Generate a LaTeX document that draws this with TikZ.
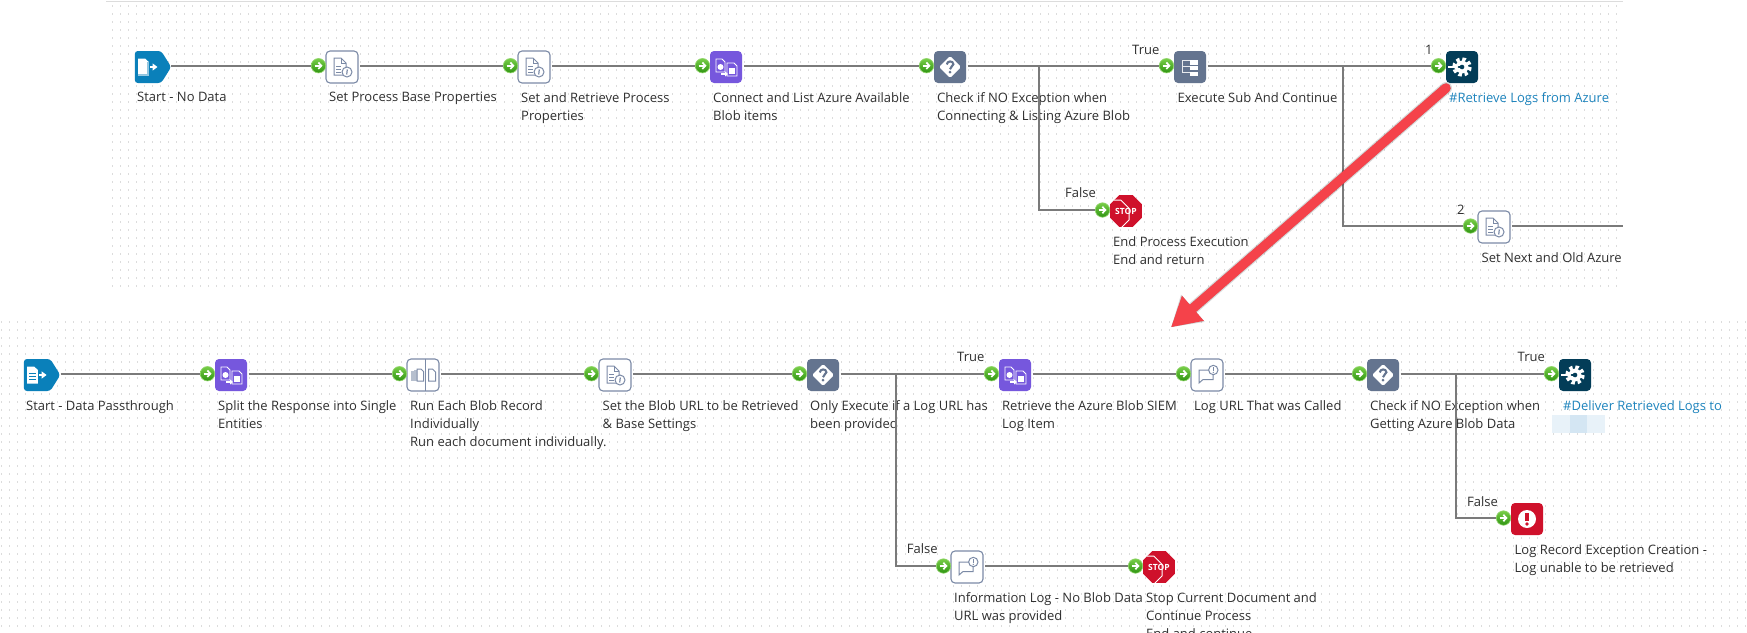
\documentclass[tikz,border=0pt]{standalone}
\usepackage{fontspec}
\setmainfont{Open Sans}
\usetikzlibrary{calc}
\usetikzlibrary{arrows.meta,shapes.geometric,shapes.symbols}
\definecolor{linegray}{HTML}{7A7A7A}
\definecolor{dotgray}{HTML}{DCDCDC}
\definecolor{startblue}{HTML}{0A80BA}
\definecolor{mappurple}{HTML}{7657DD}
\definecolor{slategray}{HTML}{64748F}
\definecolor{navy}{HTML}{033D58}
\definecolor{alertred}{HTML}{CF112B}
\definecolor{iconline}{HTML}{7B8AA6}
\definecolor{balltop}{HTML}{78CE48}
\definecolor{ballbottom}{HTML}{2F9412}
\definecolor{ballrim}{HTML}{93D66E}
\definecolor{linkblue}{HTML}{1E84BD}
\definecolor{txtgray}{HTML}{2F2F2F}
\definecolor{arrowred}{HTML}{F5424A}
\definecolor{blurlight}{HTML}{E8F2F9}
\definecolor{blurdark}{HTML}{D4E6F3}
\tikzset{
	glyph/.style={shift={(path picture bounding box.center)},sharp corners},
	link/.style={draw=linegray,line width=2.1pt},
	canvasdots/.style={dotgray,line width=1pt,dash pattern=on 2pt off 6pt},
	lbl/.style={anchor=north west,inner sep=0pt,align=left,text=txtgray,font=\fontsize{13}{18}\selectfont},
	linklbl/.style={lbl,text=linkblue},
	inball/.style={circle,minimum size=14.5pt,inner sep=0pt,top color=balltop,bottom color=ballbottom,draw=ballrim,line width=.6pt,
		path picture={\draw [white,line width=1.7pt,-{Straight Barb[length=3pt,width=6.5pt]},glyph] (-4,0) -- (4,0);}},
	iconbox/.style={rectangle,rounded corners=4pt,minimum size=32pt,inner sep=0pt},
	whitebox/.style={iconbox,fill=white,draw=iconline,line width=1.1pt},
	startbox/.style={signal,signal to=east,signal from=nowhere,signal pointer angle=116,rounded corners=3pt,
		minimum width=36.4pt,minimum height=32pt,inner sep=0pt,fill=startblue},
	startempty/.style={startbox,path picture={\begin{scope}[glyph]
		\fill [white] (-10,-8.5) -- (-3,-8.5) -- (.8,-5) -- (.8,8.5) -- (-10,8.5) -- cycle;
		\fill [startblue!45!white] (-.8,-5) -- (.8,-5) -- (.8,8.5) -- (-10,8.5) -- (-10,7) -- (-.8,7) -- cycle;
		\draw [white,line width=1.8pt,-{Triangle[length=5pt,width=7pt]}] (2,0) -- (9.5,0);
		\end{scope}}},
	startdoc/.style={startbox,path picture={\begin{scope}[glyph]
		\fill [white] (-10,-8.5) -- (-3,-8.5) -- (.8,-5) -- (.8,8.5) -- (-10,8.5) -- cycle;
		\foreach \y in {-2,1,4} \draw [startblue,line width=1pt] (-8,\y) -- (-1,\y);
		\draw [white,line width=1.8pt,-{Triangle[length=5pt,width=7pt]}] (2,0) -- (9.5,0);
		\end{scope}}},
	docinfo/.style={whitebox,path picture={\begin{scope}[glyph,iconline,line width=1pt]
		\draw (-8,-9) -- (-1,-9) -- (4,-4) -- (4,8) -- (-8,8) -- cycle;
		\draw (-1,-9) -- (-1,-4) -- (4,-4);
		\foreach \y in {-1,2,5} \draw (-6,\y) -- (-1,\y);
		\draw [fill=white] (5,5) circle (5);
		\draw [line width=1.2pt] (5.3,2.5) -- (4.7,7.5);
		\end{scope}}},
	mapbox/.style={iconbox,fill=mappurple,path picture={\begin{scope}[glyph,white,line width=.9pt]
		\draw (-10,-8) -- (-4,-8) -- (-1,-5) -- (-1,5) -- (-10,5) -- cycle;
		\fill (-5.5,0) circle (3);
		\draw (1,-4) -- (8,-4) -- (11,-1) -- (11,9) -- (1,9) -- cycle;
		\fill (3,1) rectangle (9,7);
		\draw [line width=1.4pt,-{Triangle[length=3pt,width=5pt]}] (-5,7) -- (2,7);
		\end{scope}}},
	decisionbox/.style={iconbox,fill=slategray,path picture={\begin{scope}[glyph]
		\fill [white,rounded corners=1.5pt] (0,-11) -- (11,0) -- (0,11) -- (-11,0) -- cycle;
		\draw [slategray,line width=2.1pt] (-3.2,-2.5) .. controls (-3.2,-6.5) and (3.4,-6.5) .. (3.4,-2.8) .. controls (3.4,-.5) and (0,-.5) .. (0,2.2);
		\fill [slategray] (0,5.2) circle (1.5);
		\end{scope}}},
	subbox/.style={iconbox,fill=slategray,path picture={\begin{scope}[glyph,white]
		\draw [white!85!slategray,line width=1pt] (-8,-7) -- (-8,6) (-8,-6.3) -- (0,-6.3) (-8,-.3) -- (0,-.3) (-8,5.7) -- (0,5.7);
		\foreach \y in {-4.7,.7,6.7} \fill (0,\y-2.2) rectangle (8,\y+2.2);
		\end{scope}}},
	gearbox/.style={iconbox,fill=navy,path picture={\begin{scope}[glyph,shift={(2,0)}]
		\draw [white,line width=3.8pt,dash pattern=on 3.4pt off 2.73pt] (0,0) circle (7.8);
		\fill [white] (0,0) circle (6.4);
		\fill [navy] (0,0) circle (2.3);
		\draw [navy,line width=2.8pt] (-10,0) -- (-1.5,0);
		\draw [white,line width=1.9pt,-{Triangle[length=4pt,width=7pt]}] (-14,0) -- (-3.5,0);
		\end{scope}}},
	splitbox/.style={whitebox,path picture={\begin{scope}[glyph,iconline,line width=1pt]
		\draw (2.5,-16) -- (2.5,16);
		\fill [iconline!55!white] (-12.5,-4) rectangle (-9.5,6);
		\fill [iconline!55!white] (-9,-5) rectangle (-6.5,6);
		\draw (-6,-6) -- (-2,-6) -- (.5,-3.5) -- (.5,6) -- (-6,6) -- cycle;
		\draw (5.5,-6) -- (9.5,-6) -- (12.5,-3) -- (12.5,6) -- (5.5,6) -- cycle;
		\end{scope}}},
	logbox/.style={whitebox,path picture={\begin{scope}[glyph,iconline,line width=1pt]
		\draw (-8,-5) -- (6,-5) -- (6,4.5) -- (-4,4.5) -- (-8,8) -- cycle;
		\draw [fill=white] (6.3,-5) circle (4.7);
		\draw [line width=1.2pt] (6.3,-8) -- (6.3,-4.2);
		\fill (6.3,-2.6) circle (.7);
		\end{scope}}},
	errorbox/.style={iconbox,fill=alertred,path picture={\begin{scope}[glyph]
		\fill [white] (0,0) circle (9);
		\fill [alertred] (-1.8,-6) rectangle (1.8,2);
		\fill [alertred] (0,5) circle (1.9);
		\end{scope}}},
	stopbox/.style={regular polygon,regular polygon sides=8,minimum size=34.6pt,inner sep=0pt,fill=alertred,
		text=white,font=\bfseries\fontsize{8.5}{10}\selectfont,
		path picture={\draw [white,line width=.9pt,glyph] (22.5:15) \foreach \a in {67.5,112.5,...,337.5} {-- (\a:15)} -- cycle;}},
}
\begin{document}
\begin{tikzpicture}[x=1pt,y=-1pt]
	\useasboundingbox (0,0) rectangle (1747,632);
	\clip (0,0) rectangle (1747,632);
	\fill [white] (0,0) rectangle (1747,632);

	% dotted canvas
	\foreach \x in {112,120,...,1616} \draw [canvasdots] (\x,5) -- (\x,287);
	\foreach \x in {1,9,...,1745} \draw [canvasdots] (\x,321) -- (\x,632);
	\draw [dotgray,line width=1.2pt] (106,1.2) -- (1623,1.2);

	% upper process
	\draw (148,67) node (n1) [startempty] {};
	\draw (342,67) node (n2) [docinfo] {};
	\draw (534,67) node (n3) [docinfo] {};
	\draw (726,67) node (n4) [mapbox] {};
	\draw (950,67) node (n5) [decisionbox] {};
	\draw (1190,67) node (n6) [subbox] {};
	\draw (1462,67) node (n7) [gearbox] {};
	\draw (1494,227) node (n8) [docinfo] {};
	\draw (1126,211) node (n9) [stopbox] {STOP};

	\draw (318.5,65.7) node (d2) [inball] {};
	\draw (510.5,65.7) node (d3) [inball] {};
	\draw (702.5,65.7) node (d4) [inball] {};
	\draw (926.5,65.7) node (d5) [inball] {};
	\draw (1166.5,65.7) node (d6) [inball] {};
	\draw (1438.5,65.7) node (d7) [inball] {};
	\draw (1470.5,226) node (d8) [inball] {};
	\draw (1102.5,210) node (d9) [inball] {};

	\draw (137,92) node (t1) [lbl] {Start - No Data};
	\draw (329,92) node (t2) [lbl] {Set Process Base Properties};
	\draw (521,92) node (t3) [lbl] {Set and Retrieve Process\\Properties};
	\draw (713,92) node (t4) [lbl] {Connect and List Azure Available\\Blob items};
	\draw (937,92) node (t5) [lbl] {Check if NO Exception when\\Connecting \& Listing Azure Blob};
	\draw (1177.5,92) node (t6) [lbl] {Execute Sub And Continue};
	\draw (1449,92) node (t7) [linklbl] {\#Retrieve Logs from Azure};
	\draw (1481.5,252.4) node (t8) [lbl] {Set Next and Old Azure};
	\draw (1113,236.4) node (t9) [lbl] {End Process Execution\\End and return};
	\draw (1132,44.7) node (c1) [lbl] {True};
	\draw (1065,187.7) node (c2) [lbl] {False};
	\draw (1425,44.7) node (c3) [lbl] {1};
	\draw (1457,204.7) node (c4) [lbl] {2};

	\coordinate (b1) at (1038.8,65.7);
	\coordinate (b2) at (1343,65.7);
	\coordinate (nend) at (1623,226);
	\draw [link] (d2 -| n1.east) -- (d2);
	\draw [link,shorten <=1.5pt] (d3 -| n2.east) -- (d3);
	\draw [link,shorten <=1.5pt] (d4 -| n3.east) -- (d4);
	\draw [link,shorten <=1.5pt] (d5 -| n4.east) -- (d5);
	\draw [link,shorten <=1.5pt] (d6 -| n5.east) -- (d6);
	\draw [link,shorten <=1.5pt] (d7 -| n6.east) -- (d7);
	\draw [link] (b1) |- (d9);
	\draw [link] (b2) |- (d8);
	\draw [link,shorten <=1.5pt] (nend -| n8.east) -- (nend);

	% lower process
	\draw (37.1,375) node (m1) [startdoc] {};
	\draw (231,375) node (m2) [mapbox] {};
	\draw (423,375) node (m3) [splitbox] {};
	\draw (615,375) node (m4) [docinfo] {};
	\draw (823,375) node (m5) [decisionbox] {};
	\draw (1015,375) node (m6) [mapbox] {};
	\draw (1207,375) node (m7) [logbox] {};
	\draw (1383,375) node (m8) [decisionbox] {};
	\draw (1575,375) node (m9) [gearbox] {};
	\draw (1527,519) node (m10) [errorbox] {};
	\draw (967,567) node (m11) [logbox] {};
	\draw (1159,567) node (m12) [stopbox] {STOP};

	\draw (207.5,373.7) node (e2) [inball] {};
	\draw (399.5,373.7) node (e3) [inball] {};
	\draw (591.5,373.7) node (e4) [inball] {};
	\draw (799.5,373.7) node (e5) [inball] {};
	\draw (991.5,373.7) node (e6) [inball] {};
	\draw (1183.5,373.7) node (e7) [inball] {};
	\draw (1359.5,373.7) node (e8) [inball] {};
	\draw (1551.5,373.7) node (e9) [inball] {};
	\draw (1503.5,518) node (e10) [inball] {};
	\draw (943.5,566) node (e11) [inball] {};
	\draw (1135.5,566) node (e12) [inball] {};

	\draw (26,400.4) node (u1) [lbl] {Start - Data Passthrough};
	\draw (218,400.4) node (u2) [lbl] {Split the Response into Single\\Entities};
	\draw (410,400.4) node (u3) [lbl] {Run Each Blob Record\\Individually\\Run each document individually.};
	\draw (602.5,400.4) node (u4) [lbl] {Set the Blob URL to be Retrieved\\\& Base Settings};
	\draw (810,400.4) node (u5) [lbl] {Only Execute if a Log URL has\\been provided};
	\draw (1002,400.4) node (u6) [lbl] {Retrieve the Azure Blob SIEM\\Log Item};
	\draw (1194,400.4) node (u7) [lbl] {Log URL That was Called};
	\draw (1370,400.4) node (u8) [lbl] {Check if NO Exception when\\Getting Azure Blob Data};
	\draw (1563,400.4) node (u9) [linklbl] {\#Deliver Retrieved Logs to};
	\draw (1514.5,544.4) node (u10) [lbl] {Log Record Exception Creation -\\Log unable to be retrieved};
	\draw (954,592.4) node (u11) [lbl] {Information Log - No Blob Data\\URL was provided};
	\draw (1146,592.4) node (u12) [lbl] {Stop Current Document and\\Continue Process\\End and continue};
	\draw (957,351.7) node (k1) [lbl] {True};
	\draw (906.7,543.7) node (k2) [lbl] {False};
	\draw (1517.5,351.7) node (k3) [lbl] {True};
	\draw (1467,496.4) node (k4) [lbl] {False};

	% blurred name
	\fill [blurlight] (1552,415) rectangle (1570,432.7);
	\fill [blurdark] (1570,415) rectangle (1587,432.7);
	\fill [blurlight] (1587,415) rectangle (1605,432.7);

	\coordinate (b3) at (896,373.7);
	\coordinate (b4) at (1456,373.7);
	\draw [link] (e2 -| m1.east) -- (e2);
	\draw [link,shorten <=1.5pt] (e3 -| m2.east) -- (e3);
	\draw [link,shorten <=1.5pt] (e4 -| m3.east) -- (e4);
	\draw [link,shorten <=1.5pt] (e5 -| m4.east) -- (e5);
	\draw [link,shorten <=1.5pt] (e6 -| m5.east) -- (e6);
	\draw [link,shorten <=1.5pt] (e7 -| m6.east) -- (e7);
	\draw [link,shorten <=1.5pt] (e8 -| m7.east) -- (e8);
	\draw [link,shorten <=1.5pt] (e9 -| m8.east) -- (e9);
	\draw [link] (b3) |- (e11);
	\draw [link] (b4) |- (e10);
	\draw [link,shorten <=1.5pt] (e12 -| m11.east) -- (e12);

	% red pointer between the two
	\coordinate (redfrom) at (1446,88);
	\coordinate (redto) at (1171,327.3);
	\draw [black,opacity=.15,line width=12pt,line cap=round,shift={(3,3)},-{Triangle[length=29pt,width=34pt]}] (redfrom) -- (redto);
	\draw [black,opacity=.25,line width=9.5pt,line cap=round,shift={(3,3)},-{Triangle[length=29pt,width=31pt]}] (redfrom) -- (redto);
	\draw [arrowred,line width=9.5pt,line cap=round,-{Triangle[length=29pt,width=31pt]}] (redfrom) -- (redto);
\end{tikzpicture}
\end{document}
